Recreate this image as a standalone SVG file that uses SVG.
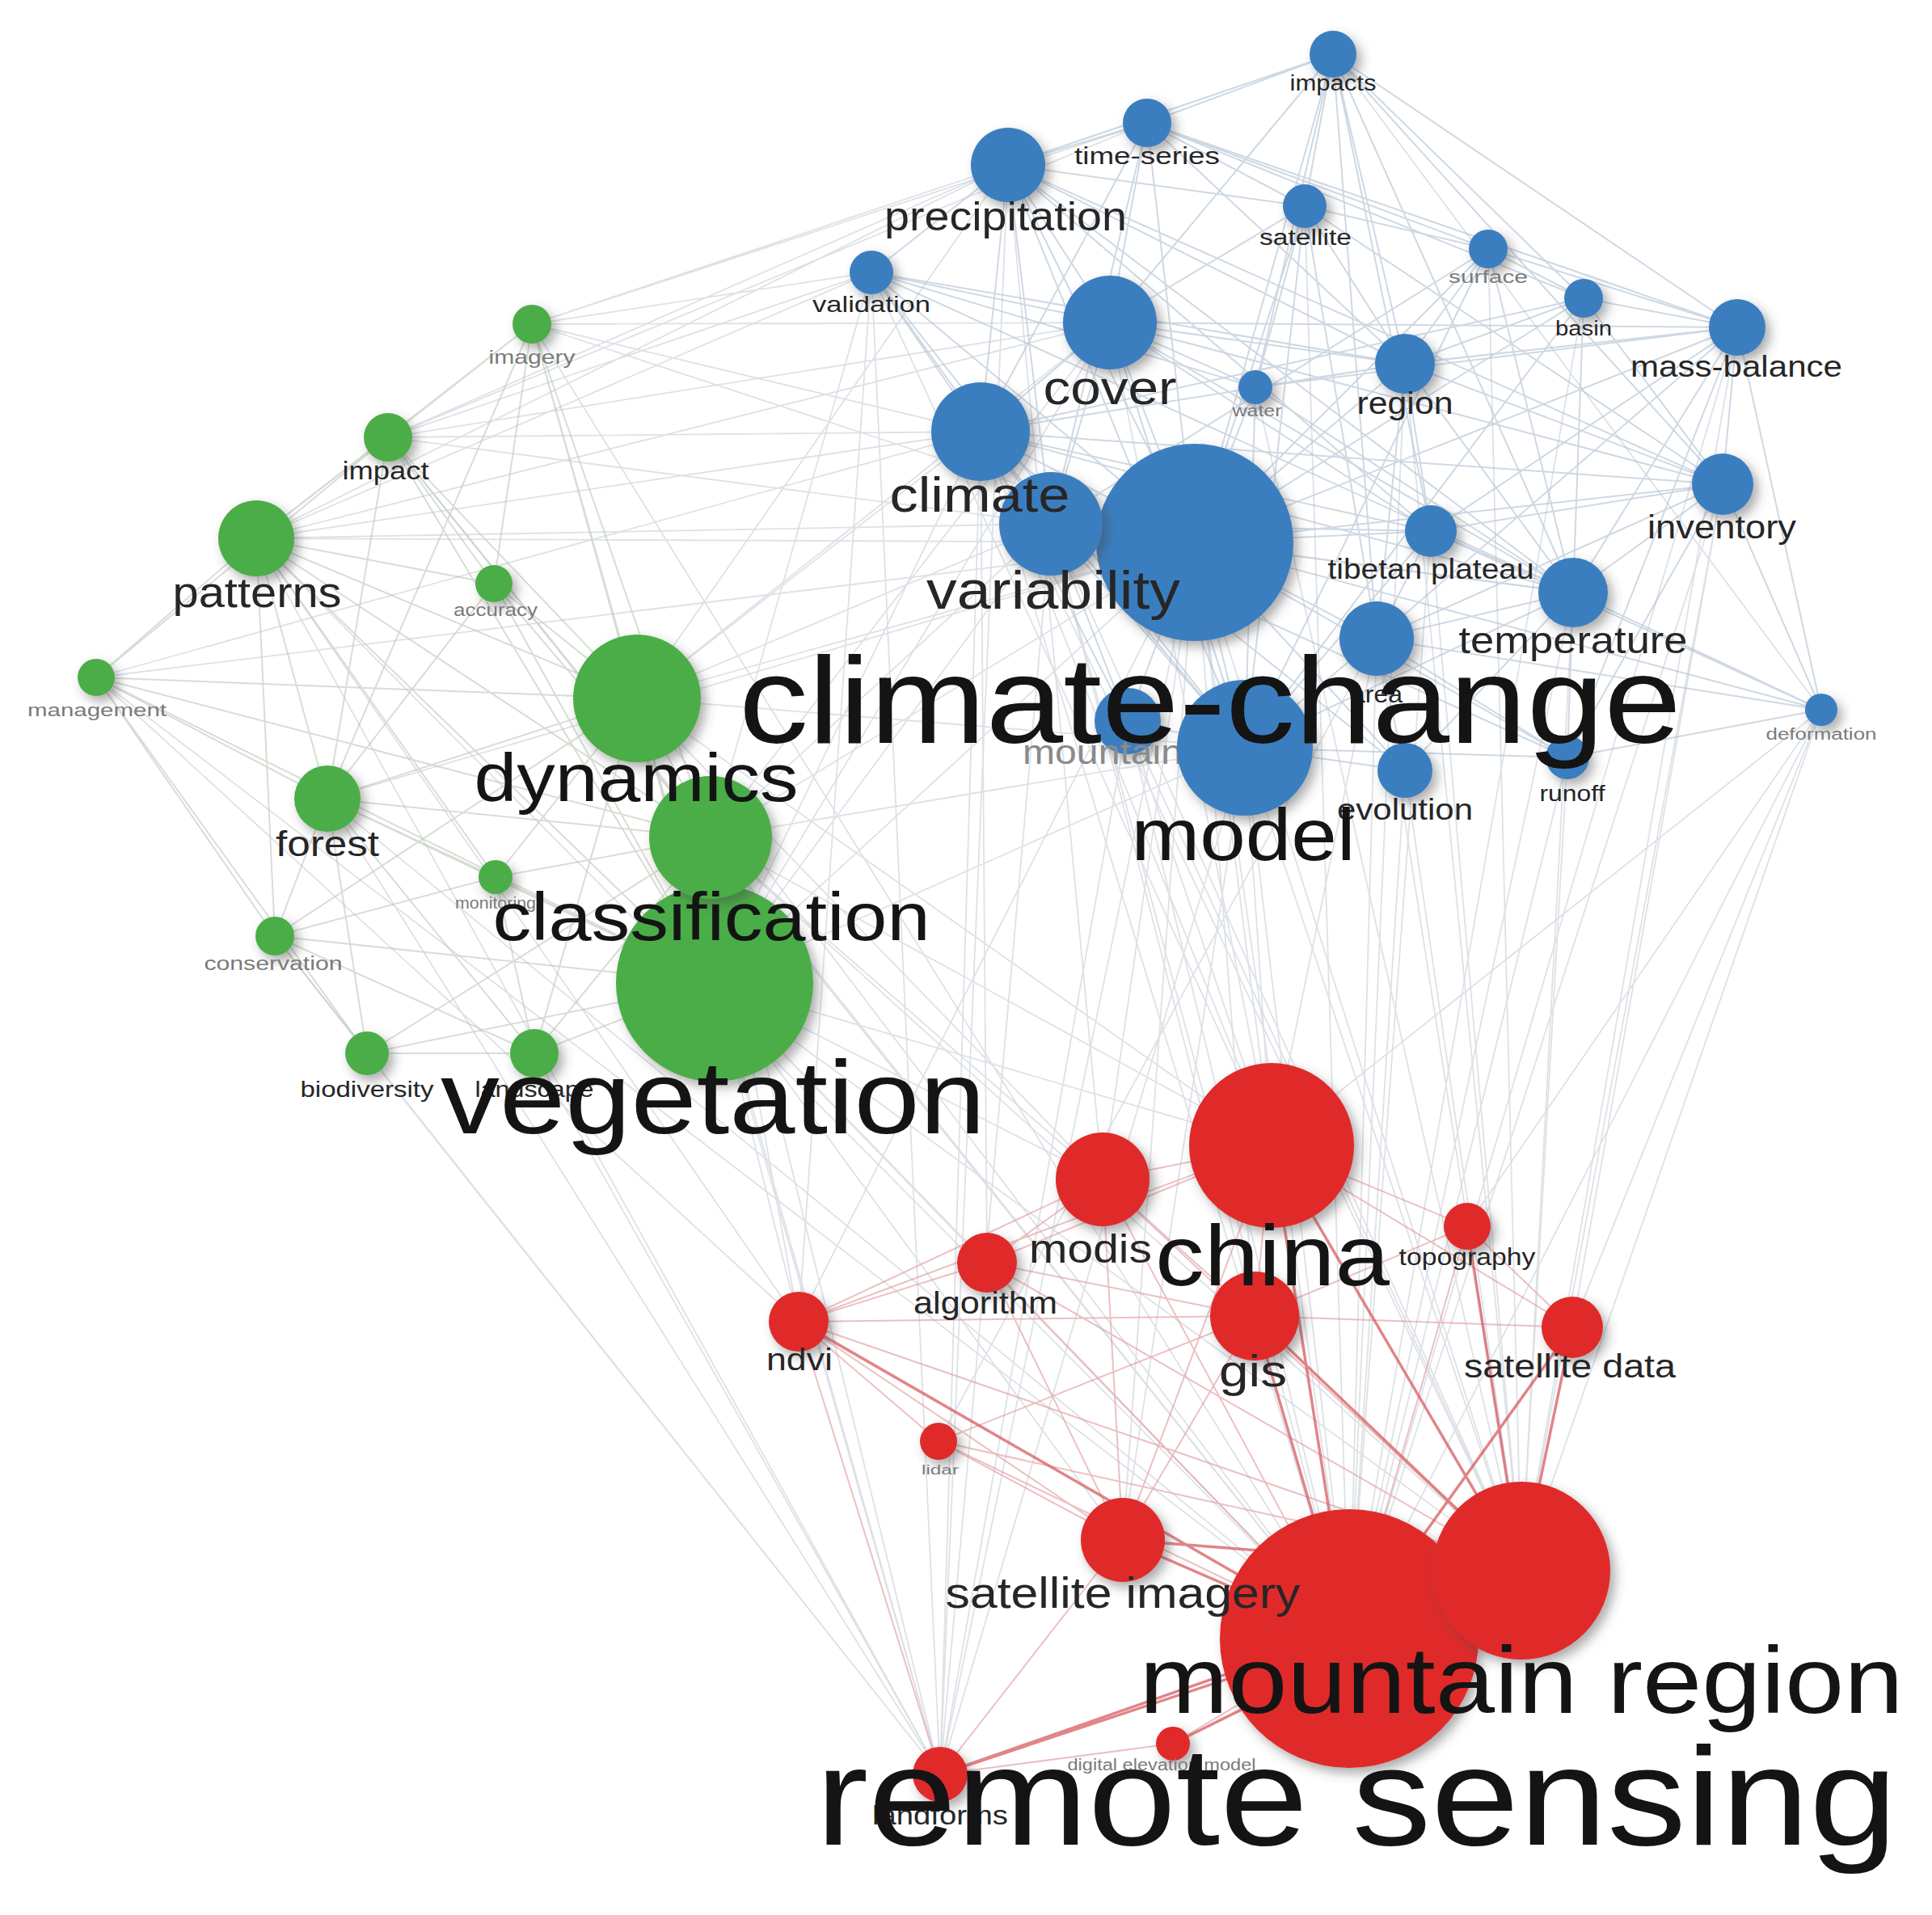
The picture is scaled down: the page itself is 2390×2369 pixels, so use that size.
<svg xmlns="http://www.w3.org/2000/svg" width="2390" height="2369" viewBox="0 0 2390 2369">
<defs>
<filter id="sh" x="-30%" y="-30%" width="170%" height="170%">
<feDropShadow dx="6" dy="7" stdDeviation="7" flood-color="#444" flood-opacity="0.45"/>
</filter>
<style>
.c path{fill:none;stroke-linecap:round}
.eb{stroke:#aebfd1;stroke-width:2;opacity:.6}
.eg{stroke:#bdc8b8;stroke-width:2;opacity:.6}
.er{stroke:#e39ea2;stroke-width:2;opacity:.65}
.es{stroke:#d65d62;stroke-width:3.5;opacity:.75}
.ex{stroke:#c2c9d2;stroke-width:1.8;opacity:.55}
.b{fill:#3b7ec0;filter:url(#sh)}
.g{fill:#4cad47;filter:url(#sh)}
.r{fill:#e02b2b;filter:url(#sh)}
text{font-family:"Liberation Sans",Arial,sans-serif;text-anchor:middle;fill:#262626}
.big{fill:#141414}
.f{fill:#7a7a7a}
.m{fill:#8a8a8a}
</style>
</defs>
<rect width="2390" height="2369" fill="#fff"/>
<g id="connectors" class="c">
<g class="ex">
<path d="M1478 671L884 1216M1478 671L788 864M1478 671L879 1036M1478 671L317 666M1478 671L480 541M1478 671L658 401M1478 671L405 988M1478 671L119 838"/>
<path d="M1213 534L788 864M1213 534L884 1216M1213 534L317 666M1213 534L480 541M1213 534L658 401M1300 648L788 864M1300 648L884 1216M1300 648L879 1036M1300 648L317 666"/>
<path d="M1540 925L884 1216M1540 925L879 1036M1540 925L788 864M1373 399L788 864M1373 399L884 1216M1373 399L879 1036M1373 399L480 541M1373 399L317 666M1373 399L658 401"/>
<path d="M1247 204L658 401M1247 204L480 541M1247 204L317 666M1247 204L788 864M1078 337L658 401M1078 337L480 541M1078 337L317 666M1078 337L879 1036M1419 152L658 401M1419 152L480 541"/>
<path d="M1478 671L1573 1417M1478 671L1669 2027M1478 671L1882 1943M1478 671L1364 1459M1478 671L1552 1628M1478 671L988 1635M1478 671L1389 1905M1478 671L1163 2195"/>
<path d="M1540 925L1573 1417M1540 925L1669 2027M1540 925L1882 1943M1540 925L1389 1905M1540 925L1163 2195M1213 534L1573 1417M1213 534L1669 2027M1213 534L1882 1943M1213 534L1163 2195"/>
<path d="M1300 648L1669 2027M1300 648L1882 1943M1300 648L1163 2195M1395 892L1669 2027M1395 892L1882 1943M1395 892L1573 1417M1703 790L1669 2027M1703 790L1882 1943M1703 790L1573 1417"/>
<path d="M1946 733L1669 2027M1946 733L1882 1943M2131 599L1669 2027M2131 599L1882 1943M2131 599L1945 1642M2253 878L1669 2027M2253 878L1882 1943M2253 878L1945 1642M2253 878L1815 1517M2253 878L1573 1417"/>
<path d="M1939 937L1882 1943M1939 937L1669 2027M2149 405L1882 1943M2149 405L1669 2027M1738 953L1669 2027M1738 953L1882 1943M1770 657L1669 2027M1770 657L1882 1943M1738 450L1882 1943M1738 450L1669 2027"/>
<path d="M884 1216L1573 1417M884 1216L1364 1459M884 1216L1669 2027M884 1216L1882 1943M884 1216L988 1635M884 1216L1163 2195M884 1216L1389 1905M884 1216L1221 1562"/>
<path d="M788 864L1573 1417M788 864L1669 2027M788 864L1364 1459M788 864L1163 2195M879 1036L1573 1417M879 1036L1669 2027M879 1036L1364 1459M879 1036L1882 1943M879 1036L988 1635M879 1036L1163 2195"/>
<path d="M317 666L1669 2027M317 666L988 1635M317 666L1163 2195M405 988L1669 2027M405 988L1163 2195M119 838L1669 2027M119 838L988 1635M454 1303L1163 2195M340 1158L1163 2195M661 1303L1163 2195"/>
<path d="M658 401L1669 2027M480 541L1669 2027M1649 67L2253 878M1247 204L1163 2195M1078 337L1163 2195M119 838L1213 534"/>
<path d="M1078 337L1573 1417M1247 204L1364 1459M1373 399L1573 1417M1614 255L1669 2027M1841 308L1882 1943M1959 369L1669 2027M1553 479L1882 1943M1078 337L988 1635M1213 534L1221 1562M1300 648L1552 1628M1395 892L1163 2195M1703 790L1161 1783"/>
</g>
<g class="eb">
<path d="M1649 67L1419 152M1649 67L1247 204M1649 67L1614 255M1649 67L1373 399M1649 67L1738 450M1649 67L2149 405M1649 67L2131 599M1649 67L1478 671M1649 67L1770 657M1649 67L1959 369M1649 67L1553 479M1649 67L1946 733M1649 67L1703 790"/>
<path d="M1419 152L1247 204M1419 152L1614 255M1419 152L1373 399M1419 152L1478 671M1419 152L1841 308M1419 152L2149 405M1419 152L1213 534M1419 152L1959 369"/>
<path d="M1247 204L1078 337M1247 204L1373 399M1247 204L1213 534M1247 204L1478 671M1247 204L1300 648M1247 204L1614 255M1247 204L1738 450M1247 204L1946 733M1247 204L1540 925M1247 204L1770 657"/>
<path d="M1614 255L1373 399M1614 255L1553 479M1614 255L1738 450M1614 255L1478 671M1614 255L1841 308M1614 255L1703 790M1614 255L1540 925"/>
<path d="M1078 337L1373 399M1078 337L1213 534M1078 337L1478 671M1078 337L1300 648M1078 337L1540 925M1078 337L1553 479"/>
<path d="M1841 308L1959 369M1841 308L2149 405M1841 308L1738 450M1841 308L1478 671M1841 308L1946 733M1959 369L2149 405M1959 369L1738 450M1959 369L1478 671M1959 369L2131 599M1959 369L1946 733M1959 369L1213 534"/>
<path d="M2149 405L2131 599M2149 405L1738 450M2149 405L1478 671M2149 405L1946 733M2149 405L1770 657M2149 405L1703 790M2149 405L1373 399M2149 405L2253 878M2149 405L1939 937"/>
<path d="M1373 399L1213 534M1373 399L1478 671M1373 399L1300 648M1373 399L1738 450M1373 399L1553 479M1373 399L1540 925M1373 399L1946 733M1373 399L2131 599"/>
<path d="M1553 479L1478 671M1553 479L1738 450M1553 479L1540 925M1738 450L1478 671M1738 450L1770 657M1738 450L1946 733M1738 450L1213 534M1738 450L2131 599M1738 450L1703 790"/>
<path d="M1213 534L1478 671M1213 534L1300 648M1213 534L1540 925M1213 534L1946 733M1213 534L1395 892M1213 534L1770 657M1213 534L2131 599"/>
<path d="M2131 599L1478 671M2131 599L1946 733M2131 599L1770 657M2131 599L2253 878M2131 599L1703 790M2131 599L1939 937"/>
<path d="M1300 648L1478 671M1300 648L1540 925M1300 648L1946 733M1300 648L1770 657M1300 648L1395 892"/>
<path d="M1478 671L1770 657M1478 671L1946 733M1478 671L1703 790M1478 671L1540 925M1478 671L1395 892M1478 671L1738 953M1478 671L1939 937M1478 671L2253 878"/>
<path d="M1770 657L1946 733M1770 657L1703 790M1770 657L1540 925M1946 733L1703 790M1946 733L1939 937M1946 733L2253 878M1946 733L1540 925M1946 733L1738 953"/>
<path d="M1703 790L1540 925M1703 790L1738 953M1703 790L1939 937M1540 925L1738 953M1540 925L1395 892M1540 925L1939 937M2253 878L1939 937M2253 878L1703 790M2253 878L1770 657"/>
<path d="M1078 337L1738 450M1078 337L1946 733M1247 204L2131 599M1419 152L1738 450M1419 152L1300 648M1553 479L1946 733M1553 479L2149 405M1614 255L2131 599M1841 308L1300 648M1841 308L1540 925M1959 369L1540 925M1213 534L1738 953M1300 648L1939 937M1373 399L1770 657"/>
</g>
<g class="eg">
<path d="M658 401L480 541M658 401L317 666M658 401L788 864M658 401L879 1036M658 401L884 1216M658 401L611 722M658 401L405 988"/>
<path d="M480 541L317 666M480 541L788 864M480 541L611 722M480 541L884 1216M480 541L879 1036M480 541L405 988M480 541L119 838"/>
<path d="M317 666L119 838M317 666L788 864M317 666L611 722M317 666L405 988M317 666L884 1216M317 666L879 1036M317 666L340 1158M317 666L613 1085"/>
<path d="M611 722L788 864M611 722L879 1036M611 722L884 1216M611 722L405 988M119 838L788 864M119 838L405 988M119 838L340 1158M119 838L884 1216M119 838L454 1303M119 838L879 1036"/>
<path d="M788 864L879 1036M788 864L884 1216M788 864L405 988M788 864L613 1085M788 864L661 1303M405 988L879 1036M405 988L884 1216M405 988L613 1085M405 988L340 1158M405 988L454 1303M405 988L661 1303"/>
<path d="M879 1036L884 1216M879 1036L613 1085M879 1036L661 1303M879 1036L454 1303M613 1085L884 1216M613 1085L340 1158M613 1085L661 1303M340 1158L454 1303M340 1158L884 1216M340 1158L661 1303M884 1216L454 1303M884 1216L661 1303M454 1303L661 1303M340 1158L788 864"/>
</g>
<g class="er">
<path d="M1573 1417L1364 1459M1573 1417L1552 1628M1573 1417L1815 1517M1573 1417L1945 1642M1573 1417L1221 1562M1573 1417L1389 1905M1573 1417L988 1635"/>
<path d="M1364 1459L1552 1628M1364 1459L1221 1562M1364 1459L988 1635M1364 1459L1669 2027M1364 1459L1882 1943M1364 1459L1389 1905M1815 1517L1669 2027M1815 1517L1552 1628M1815 1517L1945 1642"/>
<path d="M1221 1562L988 1635M1221 1562L1669 2027M1221 1562L1389 1905M1221 1562L1552 1628M1221 1562L1882 1943M988 1635L1389 1905M988 1635L1882 1943M988 1635L1161 1783M988 1635L1552 1628"/>
<path d="M1552 1628L1389 1905M1552 1628L1945 1642M1552 1628L1161 1783M1161 1783L1669 2027M1161 1783L1389 1905M1161 1783L1882 1943M1163 2195L1389 1905M1163 2195L1451 2157M1669 2027L1451 2157M988 1635L1163 2195"/>
</g>
<g class="es">
<path d="M1552 1628L1669 2027M1573 1417L1669 2027M1573 1417L1882 1943M1815 1517L1882 1943M1945 1642L1882 1943M1945 1642L1669 2027M1163 2195L1882 1943M1163 2195L1669 2027"/>
<path d="M988 1635L1669 2027M1389 1905L1669 2027M1389 1905L1882 1943M1552 1628L1882 1943M1451 2157L1882 1943M1669 2027L1882 1943"/>
</g>
</g>
<g id="nodes">
<g id="node-deformation"><circle class="b" cx="2253" cy="878" r="20"/><text class="f" x="2253" y="915" font-size="20" textLength="137" lengthAdjust="spacingAndGlyphs">deformation</text></g>
<g id="node-water"><circle class="b" cx="1553" cy="479" r="21"/><text class="f" x="1555" y="515" font-size="20" textLength="61" lengthAdjust="spacingAndGlyphs">water</text></g>
<g id="node-surface"><circle class="b" cx="1841" cy="308" r="24"/><text class="f" x="1841" y="350" font-size="22" textLength="98" lengthAdjust="spacingAndGlyphs">surface</text></g>
<g id="node-basin"><circle class="b" cx="1959" cy="369" r="24"/><text x="1959" y="415" font-size="26" textLength="70" lengthAdjust="spacingAndGlyphs">basin</text></g>
<g id="node-satellite"><circle class="b" cx="1614" cy="255" r="27"/><text x="1615" y="303" font-size="27" textLength="114" lengthAdjust="spacingAndGlyphs">satellite</text></g>
<g id="node-validation"><circle class="b" cx="1078" cy="337" r="27"/><text x="1078" y="386" font-size="28" textLength="146" lengthAdjust="spacingAndGlyphs">validation</text></g>
<g id="node-impacts"><circle class="b" cx="1649" cy="67" r="29"/><text x="1649" y="112" font-size="27" textLength="107" lengthAdjust="spacingAndGlyphs">impacts</text></g>
<g id="node-time-series"><circle class="b" cx="1419" cy="152" r="30"/><text x="1419" y="203" font-size="30" textLength="180" lengthAdjust="spacingAndGlyphs">time-series</text></g>
<g id="node-runoff"><circle class="b" cx="1939" cy="937" r="27"/><text x="1945" y="991" font-size="28" textLength="81" lengthAdjust="spacingAndGlyphs">runoff</text></g>
<g id="node-tibetan-plateau"><circle class="b" cx="1770" cy="657" r="32"/><text x="1770" y="716" font-size="35" textLength="255" lengthAdjust="spacingAndGlyphs">tibetan plateau</text></g>
<g id="node-mass-balance"><circle class="b" cx="2149" cy="405" r="35"/><text x="2148" y="466" font-size="37" textLength="262" lengthAdjust="spacingAndGlyphs">mass-balance</text></g>
<g id="node-evolution"><circle class="b" cx="1738" cy="953" r="34"/><text x="1738" y="1014" font-size="37" textLength="168" lengthAdjust="spacingAndGlyphs">evolution</text></g>
<g id="node-region"><circle class="b" cx="1738" cy="450" r="37"/><text x="1738" y="512" font-size="38" textLength="119" lengthAdjust="spacingAndGlyphs">region</text></g>
<g id="node-inventory"><circle class="b" cx="2131" cy="599" r="38"/><text x="2130" y="666" font-size="40" textLength="184" lengthAdjust="spacingAndGlyphs">inventory</text></g>
<g id="node-precipitation"><circle class="b" cx="1247" cy="204" r="46"/><text x="1244" y="285" font-size="50" textLength="300" lengthAdjust="spacingAndGlyphs">precipitation</text></g>
<g id="node-temperature"><circle class="b" cx="1946" cy="733" r="43"/><text x="1946" y="808" font-size="46" textLength="283" lengthAdjust="spacingAndGlyphs">temperature</text></g>
<g id="node-area"><circle class="b" cx="1703" cy="790" r="46"/><text x="1703" y="869" font-size="30" textLength="64" lengthAdjust="spacingAndGlyphs">area</text></g>
<g id="node-cover"><circle class="b" cx="1373" cy="399" r="58"/><text x="1373" y="500" font-size="60" textLength="165" lengthAdjust="spacingAndGlyphs">cover</text></g>
<g id="node-mountain"><circle class="b" cx="1395" cy="892" r="41"/><text class="m" x="1364" y="945" font-size="42" textLength="198" lengthAdjust="spacingAndGlyphs">mountain</text></g>
<g id="node-model"><circle class="b" cx="1540" cy="925" r="84"/><text class="big" x="1538" y="1064" font-size="90" textLength="277" lengthAdjust="spacingAndGlyphs">model</text></g>
<g id="node-climate-change"><circle class="b" cx="1478" cy="671" r="122"/><text class="big" x="1497" y="919" font-size="152" textLength="1166" lengthAdjust="spacingAndGlyphs">climate-change</text></g>
<g id="node-variability"><circle class="b" cx="1300" cy="648" r="64"/><text x="1303" y="753" font-size="66" textLength="314" lengthAdjust="spacingAndGlyphs">variability</text></g>
<g id="node-climate"><circle class="b" cx="1213" cy="534" r="61"/><text x="1212" y="633" font-size="62" textLength="223" lengthAdjust="spacingAndGlyphs">climate</text></g>

<g id="node-imagery"><circle class="g" cx="658" cy="401" r="24"/><text class="f" x="658" y="450" font-size="24" textLength="107" lengthAdjust="spacingAndGlyphs">imagery</text></g>
<g id="node-accuracy"><circle class="g" cx="611" cy="722" r="23"/><text class="f" x="613" y="762" font-size="22" textLength="104" lengthAdjust="spacingAndGlyphs">accuracy</text></g>
<g id="node-monitoring"><circle class="g" cx="613" cy="1085" r="21"/><text class="f" x="613" y="1124" font-size="20" textLength="100" lengthAdjust="spacingAndGlyphs">monitoring</text></g>
<g id="node-management"><circle class="g" cx="119" cy="838" r="23"/><text class="f" x="120" y="886" font-size="22" textLength="172" lengthAdjust="spacingAndGlyphs">management</text></g>
<g id="node-conservation"><circle class="g" cx="340" cy="1158" r="24"/><text class="f" x="338" y="1200" font-size="23" textLength="171" lengthAdjust="spacingAndGlyphs">conservation</text></g>
<g id="node-biodiversity"><circle class="g" cx="454" cy="1303" r="27"/><text x="454" y="1357" font-size="28" textLength="165" lengthAdjust="spacingAndGlyphs">biodiversity</text></g>
<g id="node-impact"><circle class="g" cx="480" cy="541" r="30"/><text x="477" y="593" font-size="32" textLength="107" lengthAdjust="spacingAndGlyphs">impact</text></g>
<g id="node-landscape"><circle class="g" cx="661" cy="1303" r="30"/><text x="661" y="1357" font-size="28" textLength="147" lengthAdjust="spacingAndGlyphs">landscape</text></g>
<g id="node-forest"><circle class="g" cx="405" cy="988" r="41"/><text x="405" y="1059" font-size="45" textLength="128" lengthAdjust="spacingAndGlyphs">forest</text></g>
<g id="node-patterns"><circle class="g" cx="317" cy="666" r="47"/><text x="318" y="751" font-size="51" textLength="209" lengthAdjust="spacingAndGlyphs">patterns</text></g>
<g id="node-vegetation"><circle class="g" cx="884" cy="1216" r="122"/><text class="big" x="882" y="1402" font-size="128" textLength="674" lengthAdjust="spacingAndGlyphs">vegetation</text></g>
<g id="node-classification"><circle class="g" cx="879" cy="1036" r="76"/><text class="big" x="880" y="1163" font-size="84" textLength="541" lengthAdjust="spacingAndGlyphs">classification</text></g>
<g id="node-dynamics"><circle class="g" cx="788" cy="864" r="79"/><text class="big" x="787" y="991" font-size="83" textLength="401" lengthAdjust="spacingAndGlyphs">dynamics</text></g>

<g id="node-digital-elevation-model"><circle class="r" cx="1451" cy="2157" r="21"/><text class="f" x="1437" y="2190" font-size="20" textLength="233" lengthAdjust="spacingAndGlyphs">digital elevation model</text></g>
<g id="node-lidar"><circle class="r" cx="1161" cy="1783" r="23"/><text class="f" x="1163" y="1824" font-size="16" textLength="46" lengthAdjust="spacingAndGlyphs">lidar</text></g>
<g id="node-topography"><circle class="r" cx="1815" cy="1517" r="29"/><text x="1815" y="1565" font-size="29" textLength="169" lengthAdjust="spacingAndGlyphs">topography</text></g>
<g id="node-landforms"><circle class="r" cx="1163" cy="2195" r="34"/><text x="1163" y="2257" font-size="33" textLength="168" lengthAdjust="spacingAndGlyphs">landforms</text></g>
<g id="node-ndvi"><circle class="r" cx="988" cy="1635" r="37"/><text x="989" y="1695" font-size="39" textLength="82" lengthAdjust="spacingAndGlyphs">ndvi</text></g>
<g id="node-algorithm"><circle class="r" cx="1221" cy="1562" r="37"/><text x="1219" y="1625" font-size="38" textLength="178" lengthAdjust="spacingAndGlyphs">algorithm</text></g>
<g id="node-satellite-data"><circle class="r" cx="1945" cy="1642" r="38"/><text x="1942" y="1704" font-size="40" textLength="262" lengthAdjust="spacingAndGlyphs">satellite data</text></g>
<g id="node-gis"><circle class="r" cx="1552" cy="1628" r="55"/><text x="1550" y="1715" font-size="56" textLength="84" lengthAdjust="spacingAndGlyphs">gis</text></g>
<g id="node-modis"><circle class="r" cx="1364" cy="1459" r="58"/><text x="1349" y="1562" font-size="50" textLength="152" lengthAdjust="spacingAndGlyphs">modis</text></g>
<g id="node-china"><circle class="r" cx="1573" cy="1417" r="102"/><text class="big" x="1574" y="1590" font-size="106" textLength="290" lengthAdjust="spacingAndGlyphs">china</text></g>
<g id="node-remote-sensing"><circle class="r" cx="1669" cy="2027" r="160"/><text class="big" x="1678" y="2282" font-size="172" textLength="1338" lengthAdjust="spacingAndGlyphs">remote sensing</text></g>
<g id="node-satellite-imagery"><circle class="r" cx="1389" cy="1905" r="52"/><text x="1389" y="1989" font-size="54" textLength="439" lengthAdjust="spacingAndGlyphs">satellite imagery</text></g>
<g id="node-mountain-region"><circle class="r" cx="1882" cy="1943" r="110"/><text class="big" x="1882" y="2119" font-size="116" textLength="945" lengthAdjust="spacingAndGlyphs">mountain region</text></g>
</g>
</svg>
